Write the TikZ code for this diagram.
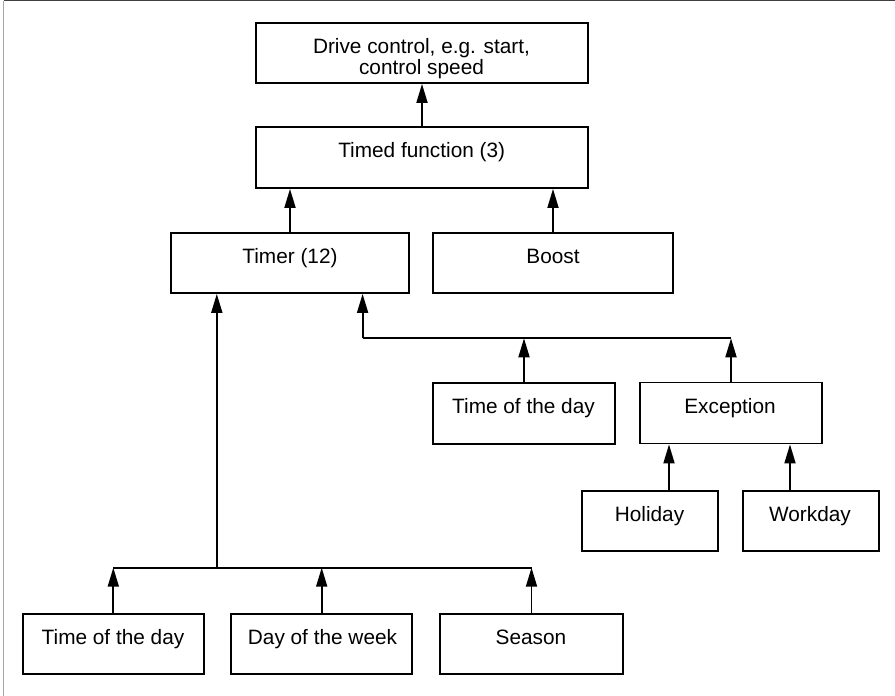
\documentclass[tikz,border=0pt]{standalone}
\usepackage{fontspec}
\setmainfont{Liberation Sans}
\usetikzlibrary{arrows.meta}
\begin{document}
\begin{tikzpicture}[x=1bp,y=-1bp,
  box/.style={draw, line width=1.8bp, inner sep=0pt, minimum height=60bp},
  txt/.style={inner sep=0pt, text height=14.9bp, text depth=0pt, font=\fontsize{20.8bp}{22bp}\selectfont},
  conn/.style={line width=1.8bp},
  arr/.style={line width=1.8bp, -{Triangle[length=19bp,width=11bp]}}
]
\useasboundingbox (0,0) rectangle (895,696);
% frame
\draw[black!75, line width=1bp] (3.5,1) -- (895,1);
\draw[gray!70, line width=1.2bp] (3.5,1) -- (3.5,696);

% boxes
\node[box, minimum width=332bp] (drive) at (422,53) {};
\node[box, minimum width=332bp, minimum height=61bp] (timed) at (422,157.5) {};
\node[box, minimum width=238bp] (timer) at (290,263) {};
\node[box, minimum width=240bp] (boost) at (553,263) {};
\node[box, minimum width=182bp, minimum height=61bp] (tod2) at (524,413.5) {};
\node[box, minimum width=182bp, minimum height=61bp] (exc) at (731,413) {};
\node[box, minimum width=136bp] (hol) at (650,521) {};
\node[box, minimum width=136bp] (work) at (811,521) {};
\node[box, minimum width=181bp] (tod1) at (113.3,644) {};
\node[box, minimum width=181bp] (dow) at (321.7,644) {};
\node[box, minimum width=183bp] (season) at (531.5,644) {};

% texts
\node[txt] (tdrive1) at (421.5,46) {Drive control, e.g. start,};
\node[txt] (tdrive2) at (421.5,67.5) {control speed};
\node[txt] (ttimed) at (421.7,150) {Timed function (3)};
\node[txt] (ttimer) at (290,256) {Timer (12)};
\node[txt] (tboost) at (553,256) {Boost};
\node[txt] (ttod2) at (523.5,406.5) {Time of the day};
\node[txt] (texc) at (730,406.5) {Exception};
\node[txt] (thol) at (649.5,514) {Holiday};
\node[txt] (twork) at (810,514) {Workday};
\node[txt] (ttod1) at (113,637) {Time of the day};
\node[txt] (tdow) at (322.5,637) {Day of the week};
\node[txt] (tseason) at (531,637) {Season};

% junctions
\coordinate (j1) at (216.8,567.7);
\coordinate (j2) at (362.6,338.3);

% connectors
\draw[arr] (timed) -- (drive);
\draw[arr] (timer.north) -- (timer.north |- timed.south);
\draw[arr] (boost.north) -- (boost.north |- timed.south);

\draw[conn] (tod1.north |- j1) -- (season.north |- j1);
\draw[arr] (j1) -- (j1 |- timer.south);
\draw[arr] (tod1.north) -- (tod1.north |- j1);
\draw[arr] (dow.north) -- (dow.north |- j1);
\draw[arr] (season.north) -- (season.north |- j1);

\draw[conn] (j2) -- (exc.north |- j2);
\draw[arr] (j2) -- (j2 |- timer.south);
\draw[arr] (tod2.north) -- (tod2.north |- j2);
\draw[arr] (exc.north) -- (exc.north |- j2);

\draw[arr] ([xshift=19bp]hol.north) -- ([xshift=-62bp]exc.south);
\draw[arr] ([xshift=-21bp]work.north) -- ([xshift=59bp]exc.south);
\end{tikzpicture}
\end{document}
